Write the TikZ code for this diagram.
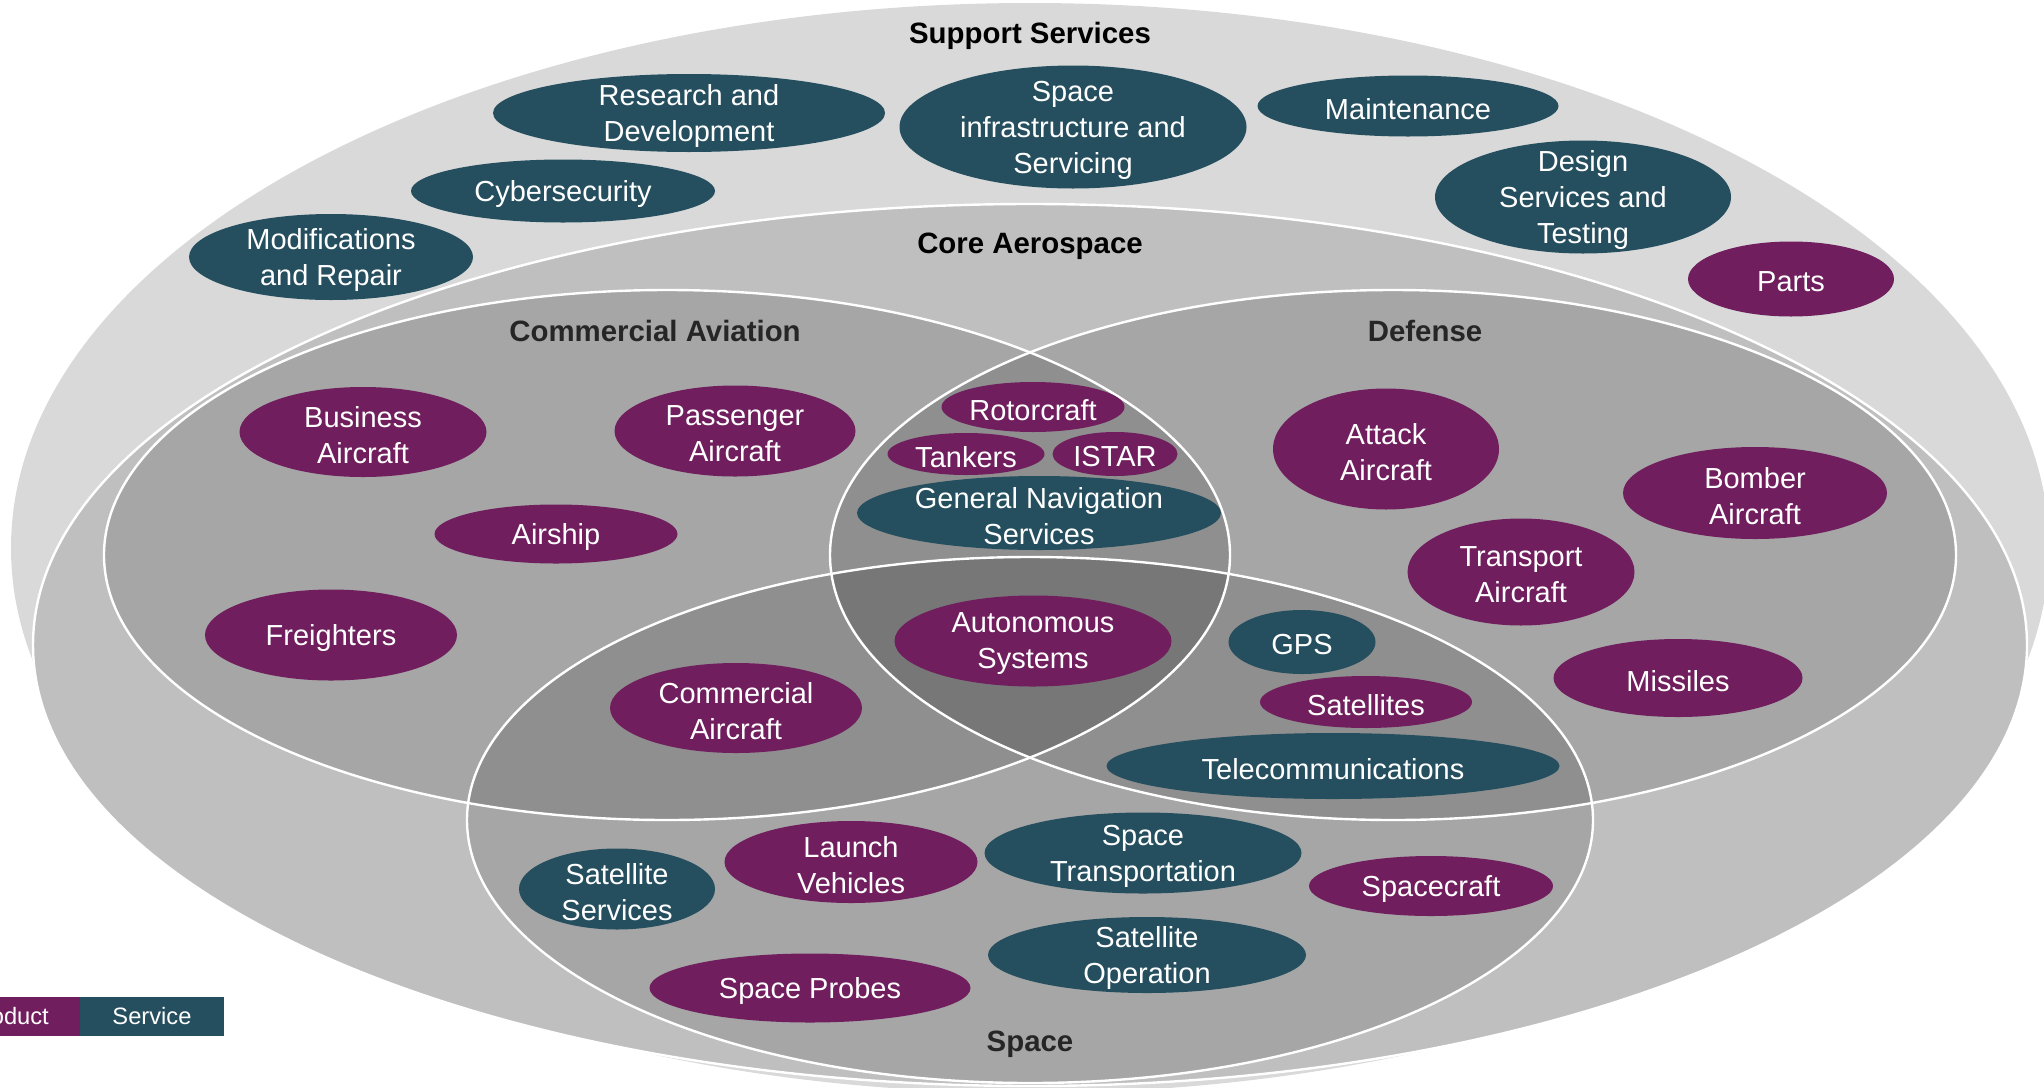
\documentclass[tikz,border=0pt]{standalone}
\usepackage{fontspec}
\setmainfont{Liberation Sans}
\usetikzlibrary{shapes.geometric}
\definecolor{prod}{RGB}{112,30,94}
\definecolor{serv}{RGB}{37,79,95}
\definecolor{lgray}{RGB}{217,217,217}
\definecolor{cgray}{RGB}{191,191,191}
\definecolor{sgray}{RGB}{166,166,166}
\definecolor{dgray}{RGB}{143,143,143}
\definecolor{tgray}{RGB}{119,119,119}
\definecolor{ttl}{RGB}{38,38,38}
\tikzset{
  oval/.style={ellipse, inner sep=0pt, draw=none},
  prodoval/.style={oval, fill=prod},
  servoval/.style={oval, fill=serv},
  lbl/.style={text=white, align=center, inner sep=0pt, yshift=-1.5pt, font=\fontsize{14.5}{18}\selectfont},
  ttlfont/.style={anchor=base, inner sep=0pt, font=\fontsize{14.7}{17}\selectfont\bfseries},
  venn/.style={draw=white, line width=1.2pt},
  legbox/.style={inner sep=0pt, text=white, minimum width=144*0.5pt, minimum height=39*0.5pt, font=\fontsize{11.85}{14}\selectfont},
}
\newcommand{\pillnode}[7]{%
  \node[#1, minimum width=#5*0.5pt, minimum height=#6*0.5pt] (#2) at (#3,#4) {};
  \node[lbl] (#2-t) at (#2.center) {#7};}
\def\pathL{(1030,548) ellipse [x radius=1019, y radius=545]}
\def\pathK{(1030,645) ellipse [x radius=997, y radius=441]}
\def\pathC{(667,555) ellipse [x radius=563, y radius=265]}
\def\pathD{(1393,555) ellipse [x radius=563, y radius=265]}
\def\pathS{(1030,820) ellipse [x radius=563, y radius=263]}
\begin{document}
\begin{tikzpicture}[x=0.5pt,y=-0.5pt]
\useasboundingbox (0,0) rectangle (2044,1087);
\clip (0,0) rectangle (2044,1087);
% outer rings
\fill[lgray] \pathL;
\path[fill=cgray, venn] \pathK;
% three sets
\fill[sgray] \pathC;
\fill[sgray] \pathD;
\fill[sgray] \pathS;
\begin{scope}\clip \pathC; \fill[dgray] \pathD; \fill[dgray] \pathS; \end{scope}
\begin{scope}\clip \pathD; \fill[dgray] \pathS; \end{scope}
\begin{scope}\clip \pathC; \clip \pathD; \fill[tgray] \pathS; \end{scope}
\draw[venn] \pathC;
\draw[venn] \pathD;
\draw[venn] \pathS;
% titles
\node[ttlfont, text=black] (support) at (1030,43) {Support Services};
\node[ttlfont, text=black] (core) at (1030,253) {Core Aerospace};
\node[ttlfont, text=ttl] (commav) at (655,341) {Commercial Aviation};
\node[ttlfont, text=ttl] (defense) at (1425,341) {Defense};
\node[ttlfont, text=ttl] (space) at (1030,1051) {Space};
% support services
\pillnode{servoval}{rd}{689}{113}{392}{78}{Research and\\Development}
\pillnode{servoval}{spinf}{1073}{127}{347}{123}{Space\\infrastructure and\\Servicing}
\pillnode{servoval}{maint}{1408}{106}{301}{61}{Maintenance}
\pillnode{servoval}{design}{1583}{197}{296}{113}{Design\\Services and\\Testing}
\pillnode{prodoval}{parts}{1791}{279}{206}{75}{Parts}
\pillnode{servoval}{cyber}{563}{191}{304}{63}{Cybersecurity}
\pillnode{servoval}{modrep}{331}{257}{284}{86}{Modifications\\and Repair}
% commercial aviation
\pillnode{prodoval}{business}{363}{432}{247}{90}{Business\\Aircraft}
\pillnode{prodoval}{passenger}{735}{431}{241}{91}{Passenger\\Aircraft}
\pillnode{prodoval}{airship}{556}{534}{243}{59}{Airship}
\pillnode{prodoval}{freighters}{331}{635}{252}{91}{Freighters}
\pillnode{prodoval}{commac}{736}{708}{252}{90}{Commercial\\Aircraft}
% lens
\pillnode{prodoval}{rotor}{1033}{407}{183}{50}{Rotorcraft}
\pillnode{prodoval}{tankers}{966}{454}{157}{42}{Tankers}
\pillnode{prodoval}{istar}{1115}{454}{125}{44}{ISTAR}
\pillnode{servoval}{gns}{1039}{513}{364}{74}{General Navigation\\Services}
\pillnode{prodoval}{auto}{1033}{641}{277}{91}{Autonomous\\Systems}
% defense
\pillnode{prodoval}{attack}{1386}{449}{226}{121}{Attack\\Aircraft}
\pillnode{prodoval}{bomber}{1755}{493}{264}{92}{Bomber\\Aircraft}
\pillnode{prodoval}{transport}{1521}{572}{227}{107}{Transport\\Aircraft}
\pillnode{prodoval}{missiles}{1678}{678}{249}{78}{Missiles}
\pillnode{servoval}{gps}{1302}{642}{147}{64}{GPS}
\pillnode{prodoval}{satellites}{1366}{702}{212}{52}{Satellites}
\pillnode{servoval}{telecom}{1333}{766}{453}{66}{Telecommunications}
% space
\pillnode{servoval}{satserv}{617}{889}{196}{81}{Satellite\\Services}
\pillnode{prodoval}{launch}{851}{862}{253}{82}{Launch\\Vehicles}
\pillnode{servoval}{spacetrans}{1143}{853}{317}{81}{Space\\Transportation}
\pillnode{prodoval}{spacecraft}{1431}{886}{244}{60}{Spacecraft}
\pillnode{servoval}{satop}{1147}{955}{318}{76}{Satellite\\Operation}
\pillnode{prodoval}{probes}{810}{988}{321}{69}{Space Probes}
% legend
\node[legbox, fill=prod] (product) at (8,1016.5) {Product};
\node[legbox, fill=serv] (service) at (152,1016.5) {Service};
\end{tikzpicture}
\end{document}
